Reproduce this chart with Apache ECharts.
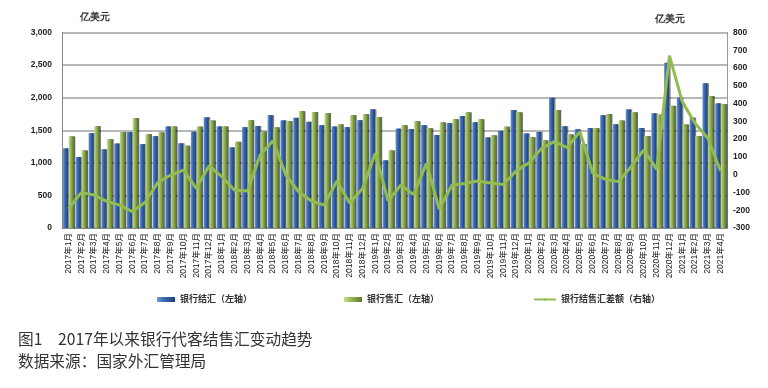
<!DOCTYPE html>
<html><head><meta charset="utf-8">
<script src="https://cdn.jsdelivr.net/npm/echarts@6/dist/echarts.min.js"></script>
<style>html,body{margin:0;padding:0;background:#fff}#c{width:768px;height:388px}</style>
</head><body><div id="c"></div>
<script>
const months = [];
for (let y = 2017; y <= 2021; y++) for (let m = 1; m <= 12; m++) { if (y === 2021 && m > 4) break; months.push(y + '年' + m + '月'); }
const settlement = [1223,1089,1456,1207,1297,1471,1287,1410,1558,1300,1478,1699,1558,1238,1548,1565,1732,1652,1691,1630,1578,1558,1550,1655,1821,1039,1525,1519,1578,1427,1609,1719,1624,1391,1490,1811,1452,1475,1997,1562,1514,1534,1731,1593,1820,1534,1760,2535,2005,1693,2223,1913];
const sale = [1406,1191,1563,1363,1473,1686,1440,1468,1558,1263,1556,1650,1558,1323,1655,1478,1546,1640,1793,1780,1763,1591,1732,1747,1703,1191,1578,1639,1532,1621,1670,1775,1670,1422,1555,1775,1394,1347,1811,1437,1289,1534,1749,1650,1776,1411,1740,1875,1589,1411,2025,1900];
const balance = [-193,-101,-114,-150,-171,-208,-155,-43,-2,26,-77,50,-11,-88,-92,111,191,-2,-96,-148,-171,-36,-161,-77,120,-148,-58,-112,64,-194,-58,-49,-36,-47,-55,20,66,148,186,152,242,8,-26,-39,45,139,30,670,411,289,205,21];
const seriesNames = ['银行结汇（左轴）','银行售汇（左轴）','银行结售汇差额（右轴）'];
const unit = '亿美元';
const caption1 = '图1　2017年以来银行代客结售汇变动趋势';
const caption2 = '数据来源：国家外汇管理局';

const blueGrad = new echarts.graphic.LinearGradient(0,0,1,0,[{offset:0,color:'#6E9BDB'},{offset:0.35,color:'#3E6DB5'},{offset:1,color:'#1C3F78'}]);
const greenGrad = new echarts.graphic.LinearGradient(0,0,1,0,[{offset:0,color:'#C4DC8E'},{offset:0.4,color:'#95B856'},{offset:1,color:'#5E7A2C'}]);
const font = '"Liberation Sans", Arial, "Noto Sans CJK SC", sans-serif';
const chart = echarts.init(document.getElementById('c'));
chart.setOption({
  animation:false,
  textStyle:{fontFamily:font},
  grid:{left:62,right:41,top:32.5,bottom:160},
  legend:[
    {data:[{name:seriesNames[0],icon:'rect'}],left:152,top:290,itemWidth:18,itemHeight:5,textStyle:{fontSize:9,color:'#333',fontWeight:'bold'}},
    {data:[{name:seriesNames[1],icon:'rect'}],left:339,top:290,itemWidth:18,itemHeight:5,textStyle:{fontSize:9,color:'#333',fontWeight:'bold'}},
    {data:[{name:seriesNames[2]}],left:528,top:290,itemWidth:22,itemHeight:3,textStyle:{fontSize:9,color:'#333',fontWeight:'bold'}}
  ],
  xAxis:{type:'category',data:months,
    axisLine:{lineStyle:{color:'#888',width:1}},axisTick:{show:false},
    axisLabel:{interval:0,rotate:90,fontSize:8.5,color:'#222',margin:5,fontFamily:font}},
  yAxis:[
    {type:'value',min:0,max:3000,interval:500,
     axisLine:{show:true,lineStyle:{color:'#888'}},axisTick:{show:false},
     splitLine:{lineStyle:{color:'#a0a0a0',width:1.5}},
     axisLabel:{fontSize:8.5,color:'#222',margin:10,fontWeight:'bold',formatter:v=>v.toLocaleString('en-US')}},
    {type:'value',min:-300,max:800,interval:100,
     axisLine:{show:true,lineStyle:{color:'#999'}},axisTick:{show:false},splitLine:{show:false},
     axisLabel:{fontSize:8.5,color:'#222',margin:6,fontWeight:'bold'}}
  ],
  graphic:[
    {type:'text',left:80,top:12,style:{text:unit,fontSize:10,fontWeight:'bold',fill:'#333',font:'bold 10px "Noto Sans CJK SC"'}},
    {type:'text',left:655,top:14,style:{text:unit,fontSize:10,fontWeight:'bold',fill:'#333',font:'bold 10px "Noto Sans CJK SC"'}},
    {type:'text',left:18,top:331,style:{text:caption1,font:'15.7px "Noto Sans CJK SC"',fill:'#333'}},
    {type:'text',left:18,top:353,style:{text:caption2,font:'15.7px "Noto Sans CJK SC"',fill:'#333'}}
  ],
  series:[
    {name:seriesNames[0],type:'bar',data:settlement,barWidth:5,barGap:'15%',itemStyle:{color:blueGrad,shadowColor:'rgba(0,0,0,0.5)',shadowOffsetX:1.5}},
    {name:seriesNames[1],type:'bar',data:sale,barWidth:5,itemStyle:{color:greenGrad,shadowColor:'rgba(0,0,0,0.6)',shadowOffsetX:1.5}},
    {name:seriesNames[2],type:'line',yAxisIndex:1,data:balance,showSymbol:false,symbol:'none',lineStyle:{color:'#93BC50',width:3},itemStyle:{color:'#93BC50'},z:5}
  ]
});
</script></body></html>
